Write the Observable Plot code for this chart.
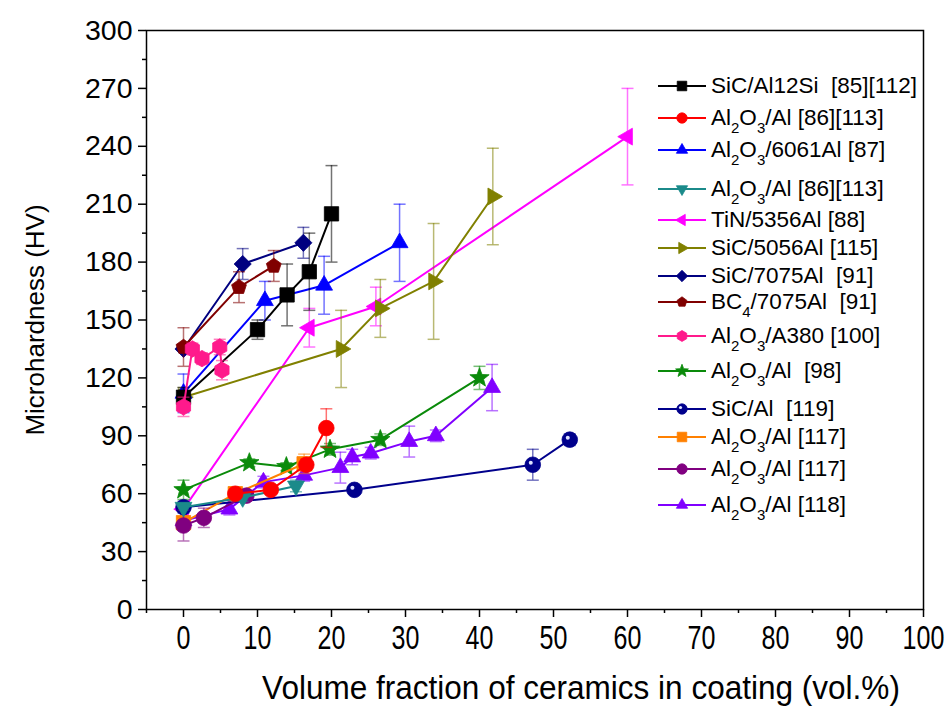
<!DOCTYPE html>
<html><head><meta charset="utf-8">
<script src="https://cdn.jsdelivr.net/npm/d3@7"></script>
<script src="https://cdn.jsdelivr.net/npm/@observablehq/plot@0.6"></script>
<style>
html,body{margin:0;padding:0;background:#fff;}
#wrap{position:relative;width:950px;height:713px;font-family:"Liberation Sans",Arial,sans-serif;}
.row{position:absolute;left:656px;height:30px;display:flex;align-items:center;white-space:pre;font-size:22.5px;color:#000;}
.row svg{margin-right:5px;}
.row sub{font-size:15px;vertical-align:-8px;line-height:0;}
</style></head><body><div id="wrap"></div>
<script>
// ---- data ----
const names = ["SiC/Al12Si  [85][112]", "Al2O3/Al [86][113]", "Al2O3/6061Al [87]", "Al2O3/Al [86][113]",
  "TiN/5356Al [88]", "SiC/5056Al [115]", "SiC/7075Al  [91]", "BC4/7075Al  [91]", "Al2O3/A380 [100]",
  "Al2O3/Al  [98]", "SiC/Al  [119]", "Al2O3/Al [117]", "Al2O3/Al [117]", "Al2O3/Al [118]"];
const colors = ["#000000", "#ff0000", "#0000ff", "#1b8a8a", "#ff00ff", "#808000", "#000080", "#800000",
  "#ff1a8c", "#0a8a0a", "#00008c", "#ff8000", "#800080", "#8000ff"];

const sicAl12Si_x = [0, 10, 14, 17, 20];
const sicAl12Si_y = [110, 145, 163, 175, 205];
const sicAl12Si_e = [5, 5, 16, 20, 25];

const al2o3Al86_x = [7, 11.8, 16.6, 19.3];
const al2o3Al86_y = [60, 62, 75, 94];
const al2o3Al86_e = [2, 2, 3, 10];

const al2o3_6061_x = [0, 11, 19, 29.2];
const al2o3_6061_y = [112, 160, 168, 190];
const al2o3_6061_e = [10, 10, 15, 20];

const al2o3Al86b_x = [0, 8, 15.2];
const al2o3Al86b_y = [53, 58, 64];
const al2o3Al86b_e = [0, 2, 3];

const tin5356_x = [0, 17, 26, 60];
const tin5356_y = [52, 146, 157, 245];
const tin5356_e = [0, 10, 10, 25];

const sic5056_x = [0, 21.3, 26.6, 33.8, 41.8];
const sic5056_y = [110, 135, 156, 170, 214];
const sic5056_e = [5, 20, 15, 30, 25];

const sic7075_x = [0, 8, 16.2];
const sic7075_y = [135, 179, 190];
const sic7075_e = [0, 8, 8];

const bc4_7075_x = [0, 7.5, 12.2];
const bc4_7075_y = [136, 167, 178];
const bc4_7075_e = [10, 8, 8];

const a380_x = [0, 1.2, 2.5, 4.9, 5.2];
const a380_y = [105, 135, 130, 136, 124];
const a380_e = [5, 3, 3, 4, 5];

const al2o3Al98_x = [0, 8.9, 13.9, 19.8, 26.6, 40];
const al2o3Al98_y = [62, 76, 74, 83, 88, 120];
const al2o3Al98_e = [5, 2, 2, 3, 3, 6];

const sicAl119_x = [0, 23.1, 47.2, 52.2];
const sicAl119_y = [53, 62, 75, 88];
const sicAl119_e = [3, 2, 8, 3];

const al2o3Al117a_x = [0, 7, 16.3];
const al2o3Al117a_y = [45, 60, 75.5];
const al2o3Al117a_e = [3, 2, 5];

const al2o3Al117b_x = [0, 2.75, 8.5];
const al2o3Al117b_y = [43.5, 47.5, 59];
const al2o3Al117b_e = [8, 5, 2];

const al2o3Al118_x = [0, 6.2, 10.8, 16.3, 21.2, 22.8, 25.3, 30.5, 34.1, 41.7];
const al2o3Al118_y = [46, 52, 66, 69.5, 73.5, 79, 81, 87, 90, 115];
const al2o3Al118_e = [5, 3, 3, 3, 8, 4, 3, 8, 3, 12];

const xTicks = [0, 10, 20, 30, 40, 50, 60, 70, 80, 90, 100];
const yTicks = [0, 30, 60, 90, 120, 150, 180, 210, 240, 270, 300];

// ---- symbols ----
function poly(n, k, rot) {
  return {draw(ctx, size) {
    const R = k * Math.sqrt(size / Math.PI);
    for (let i = 0; i < n; i++) {
      const a = rot + 2 * Math.PI * i / n;
      const px = R * Math.sin(a), py = -R * Math.cos(a);
      i ? ctx.lineTo(px, py) : ctx.moveTo(px, py);
    }
    ctx.closePath();
  }};
}
const star = {draw(ctx, size) {
  const R = 1.3 * Math.sqrt(size / Math.PI), r = R * 0.42;
  for (let i = 0; i < 10; i++) {
    const a = Math.PI * i / 5, rr = i % 2 ? r : R;
    const px = rr * Math.sin(a), py = -rr * Math.cos(a);
    i ? ctx.lineTo(px, py) : ctx.moveTo(px, py);
  }
  ctx.closePath();
}};
const circ = {draw(ctx, size) { const r = Math.sqrt(size / Math.PI); ctx.moveTo(r, 0); ctx.arc(0, 0, r, 0, 2 * Math.PI); }};
const cap = {draw(ctx, size) { const w = Math.sqrt(size / Math.PI); ctx.moveTo(-w, 0); ctx.lineTo(w, 0); }};

const symbols = [poly(4, 1.3, Math.PI / 4), circ, poly(3, 1.25, 0), poly(3, 1.25, Math.PI),
  poly(3, 1.25, -Math.PI / 2), poly(3, 1.25, Math.PI / 2), poly(4, 1.1, 0), poly(5, 1.0, 0),
  poly(6, 1.05, 0), star, circ, poly(4, 1.3, Math.PI / 4), circ, poly(3, 1.25, 0)];

const xs = [sicAl12Si_x, al2o3Al86_x, al2o3_6061_x, al2o3Al86b_x, tin5356_x, sic5056_x, sic7075_x, bc4_7075_x, a380_x, al2o3Al98_x, sicAl119_x, al2o3Al117a_x, al2o3Al117b_x, al2o3Al118_x];
const ys = [sicAl12Si_y, al2o3Al86_y, al2o3_6061_y, al2o3Al86b_y, tin5356_y, sic5056_y, sic7075_y, bc4_7075_y, a380_y, al2o3Al98_y, sicAl119_y, al2o3Al117a_y, al2o3Al117b_y, al2o3Al118_y];
const es = [sicAl12Si_e, al2o3Al86_e, al2o3_6061_e, al2o3Al86b_e, tin5356_e, sic5056_e, sic7075_e, bc4_7075_e, a380_e, al2o3Al98_e, sicAl119_e, al2o3Al117a_e, al2o3Al117b_e, al2o3Al118_e];

const series = names.map((name, i) => ({
  name, color: colors[i], symbol: symbols[i],
  rows: xs[i].map((x, j) => ({x, y: ys[i][j], e: es[i][j]}))
}));

const R = 7.8;
const marks = [];
const order = [4, 5, 13, 9, 10, 11, 12, 3, 1, 2, 0, 6, 7, 8];
for (const i of order) {
  const s = series[i];
  const eb = s.rows.filter(d => d.e > 0);
  marks.push(Plot.ruleX(eb, {x: "x", y1: d => d.y - d.e, y2: d => d.y + d.e, stroke: s.color, strokeOpacity: 0.55, strokeWidth: 1.5}));
  marks.push(Plot.dot(eb, {x: "x", y: d => d.y - d.e, symbol: cap, r: 6, fill: "none", stroke: s.color, strokeOpacity: 0.55, strokeWidth: 1.5}));
  marks.push(Plot.dot(eb, {x: "x", y: d => d.y + d.e, symbol: cap, r: 6, fill: "none", stroke: s.color, strokeOpacity: 0.55, strokeWidth: 1.5}));
  marks.push(Plot.line(s.rows, {x: "x", y: "y", stroke: s.color, strokeWidth: 2}));
  marks.push(Plot.dot(s.rows, {x: "x", y: "y", symbol: s.symbol, r: R, fill: s.color, stroke: s.color, strokeWidth: 0.8}));
  if (i === 10) marks.push(Plot.dot(s.rows, {x: "x", y: "y", r: 2, dx: -2, dy: -2, fill: "#dfe3ff", stroke: "none"}));
}

const FF = "Liberation Sans, Arial, sans-serif";

const chart = Plot.plot({
  width: 950, height: 713,
  marginLeft: 146, marginRight: 27, marginTop: 30, marginBottom: 104,
  x: {domain: [-5, 100]},
  y: {domain: [0, 300]},
  marks: [
    Plot.axisX(xTicks, {tickSize: 8, tickPadding: 8, fontSize: 33, fontFamily: FF, strokeWidth: 1.5, label: null, tickFormat: d => d, color: "#000"}),
    Plot.axisX([-5, 5, 15, 25, 35, 45, 55, 65, 75, 85, 95], {tickSize: 4, text: null, strokeWidth: 1.5, label: null, color: "#000"}),
    Plot.axisY(yTicks, {tickSize: 8, tickPadding: 6, fontSize: 28.5, fontFamily: FF, strokeWidth: 1.5, label: null, tickFormat: d => d, color: "#000"}),
    Plot.axisY([15, 45, 75, 105, 135, 165, 195, 225, 255, 285], {tickSize: 4, text: null, strokeWidth: 1.5, label: null, color: "#000"}),
    ...marks,
    Plot.frame({stroke: "#000", strokeWidth: 1.5}),
    Plot.text(["Volume fraction of ceramics in coating (vol.%)"], {text: d => d, frameAnchor: "bottom", dx: 46, dy: 89, fontSize: 33, fontFamily: FF, fill: "#000"}),
    Plot.text(["Microhardness (HV)"], {text: d => d, frameAnchor: "left", textAnchor: "middle", rotate: -90, dx: -111, fontSize: 26, fontFamily: FF, fill: "#000"})
  ]
});
const wrap = document.getElementById("wrap");
wrap.appendChild(chart);

// condense x tick labels and x title horizontally, like the reference
chart.querySelectorAll('g[aria-label="x-axis tick label"] text').forEach(t => {
  const tr = t.getAttribute("transform") || "";
  t.setAttribute("transform", tr + " scale(0.76,1)");
});
chart.querySelectorAll('g[aria-label="text"] text').forEach(t => {
  if (t.textContent.startsWith("Volume")) {
    const L = t.getComputedTextLength();
    const tr = t.getAttribute("transform") || "";
    t.setAttribute("transform", tr + ` scale(${638 / L},1)`);
  }
});

// ---- legend ----
const legendY = [85.6, 117.7, 149.8, 188.6, 219.7, 247.8, 276, 302, 336, 371, 408.5, 437, 469, 505];
function fmt(t) {
  return t.replace(/Al2O3/g, "Al<sub>2</sub>O<sub>3</sub>").replace(/BC4/g, "BC<sub>4</sub>");
}
series.forEach((s, i) => {
  const row = document.createElement("div");
  row.className = "row";
  row.style.top = (legendY[i] - 15) + "px";
  const svg = d3.create("svg").attr("width", 50).attr("height", 30);
  svg.append("line").attr("x1", 2).attr("x2", 50).attr("y1", 15).attr("y2", 15).attr("stroke", s.color).attr("stroke-width", 2);
  svg.append("path").attr("transform", "translate(26,15)").attr("d", d3.symbol(s.symbol, 85)()).attr("fill", s.color).attr("stroke", s.color).attr("stroke-width", 0.8);
  if (i === 10) svg.append("circle").attr("cx", 24.5).attr("cy", 13.5).attr("r", 1.6).attr("fill", "#dfe3ff");
  row.appendChild(svg.node());
  const span = document.createElement("span");
  span.innerHTML = fmt(s.name);
  row.appendChild(span);
  wrap.appendChild(row);
});
</script></body></html>
